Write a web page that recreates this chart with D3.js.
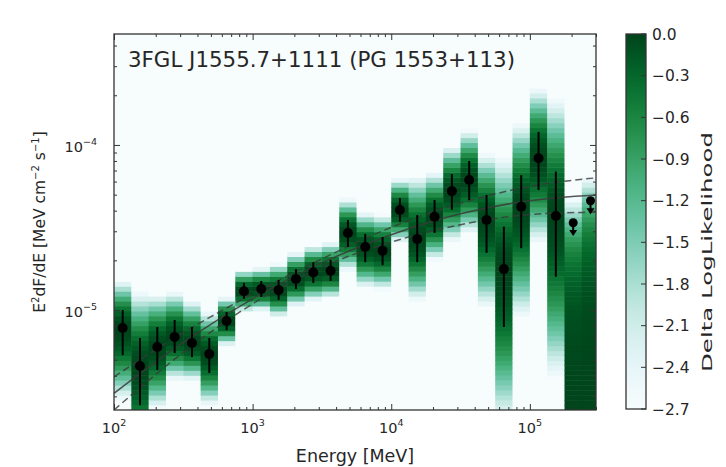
<!DOCTYPE html>
<html lang="en">
<head>
<meta charset="UTF-8">
<title>3FGL J1555.7+1111 SED</title>
<script src="https://d3js.org/d3.v7.min.js"></script>
<style>
  body { margin: 0; background: #fff; }
  text { font-family: "DejaVu Sans", sans-serif; fill: #262626; }
</style>
</head>
<body>
<svg id="chart" width="726" height="467"></svg>
<script>
// energy bin edges [MeV], 8 bins per decade
const binEdges = [100, 133.4, 177.8, 237.1, 316.2, 421.7, 562.3, 749.9,
                  1000, 1333.5, 1778.3, 2371.4, 3162.3, 4217, 5623.4, 7498.9,
                  10000, 13335, 17783, 23714, 31623, 42170, 56234, 74989,
                  100000, 133352, 177828, 237137, 316228];

// E^2 dF/dE [MeV cm^-2 s^-1]: best value and ends of the 1 sigma bar (null = upper limit bin)
const flux   = [7.78e-6, 4.58e-6, 5.97e-6, 6.86e-6, 6.31e-6, 5.41e-6, 8.58e-6, 1.30e-5,
                1.34e-5, 1.32e-5, 1.54e-5, 1.69e-5, 1.73e-5, 2.93e-5, 2.41e-5, 2.29e-5,
                4.04e-5, 2.69e-5, 3.67e-5, 5.25e-5, 6.13e-5, 3.51e-5, 1.77e-5, 4.23e-5,
                8.30e-5, 3.71e-5, null, null];
const fluxLo = [5.33e-6, 2.65e-6, 4.33e-6, 5.49e-6, 5.19e-6, 4.15e-6, 7.56e-6, 1.17e-5,
                1.20e-5, 1.15e-5, 1.34e-5, 1.46e-5, 1.50e-5, 2.41e-5, 1.95e-5, 1.87e-5,
                3.42e-5, 1.95e-5, 2.93e-5, 4.04e-5, 4.64e-5, 2.22e-5, 7.89e-6, 2.37e-5,
                5.34e-5, 1.59e-5, null, null];
const fluxHi = [1.00e-5, 6.77e-6, 7.89e-6, 8.70e-6, 7.89e-6, 6.77e-6, 9.72e-6, 1.46e-5,
                1.50e-5, 1.52e-5, 1.77e-5, 1.95e-5, 2.01e-5, 3.51e-5, 2.89e-5, 2.77e-5,
                4.77e-5, 3.76e-5, 4.64e-5, 6.66e-5, 7.99e-5, 4.98e-5, 3.20e-5, 6.57e-5,
                1.20e-4, 6.90e-5, null, null];
const upperLimit = [null, null, null, null, null, null, null, null,
                    null, null, null, null, null, null, null, null,
                    null, null, null, null, null, null, null, null,
                    null, null, 3.38e-5, 4.59e-5];

// spectral model (best fit and 1 sigma band)
const modelEnergy = [100, 316.2, 1000, 3162, 10000, 31623, 100000, 316228];
const modelFlux   = [3.13e-6, 6.36e-6, 1.17e-5, 1.93e-5, 2.86e-5, 3.83e-5, 4.60e-5, 4.99e-5];
const modelUpper  = [3.94e-6, 7.30e-6, 1.25e-5, 2.04e-5, 3.17e-5, 4.44e-5, 5.60e-5, 6.35e-5];
const modelLower  = [2.48e-6, 5.54e-6, 1.09e-5, 1.82e-5, 2.58e-5, 3.29e-5, 3.79e-5, 3.92e-5];

const xMajor = [1e2, 1e3, 1e4, 1e5];
const xMajorLabels = ["2", "3", "4", "5"];
const yMajor = [1e-5, 1e-4];
const yMajorLabels = ["\u22125", "\u22124"];
const cbTicks = [0, -0.3, -0.6, -0.9, -1.2, -1.5, -1.8, -2.1, -2.4, -2.7];

const title = "3FGL J1555.7+1111 (PG 1553+113)";

const plot = { left: 114, right: 596, top: 34, bottom: 410 };
const cb = { left: 626, width: 20, top: 34, bottom: 409 };

const svg = d3.select("#chart");

const x = d3.scaleLog().domain([100, 3e5]).range([plot.left, plot.right]);
const y = d3.scaleLog().domain([2.48e-6, 4.7e-4]).range([plot.bottom, plot.top]);
const color = d3.scaleSequential(d3.interpolateBuGn).domain([-2.7, 0]).clamp(true);

svg.append("defs").append("clipPath").attr("id", "plotclip")
  .append("rect")
    .attr("x", plot.left).attr("y", plot.top)
    .attr("width", plot.right - plot.left).attr("height", plot.bottom - plot.top);

const g = svg.append("g").attr("clip-path", "url(#plotclip)");

// likelihood profile of each bin, drawn as a column of cells
const widen = 1.15;
function deltaLogL(i, f) {
  if (upperLimit[i] != null) {
    const s = upperLimit[i] / 1.645;
    return -0.5 * (f / s) * (f / s);
  }
  const d = Math.log10(f / flux[i]);
  const s = widen * (d > 0 ? Math.log10(fluxHi[i] / flux[i]) : Math.log10(flux[i] / fluxLo[i]));
  return -0.5 * (d / s) * (d / s);
}

const step = 0.03;
const [ly0, ly1] = y.domain().map(Math.log10);
const grid = d3.range(ly0, ly1, step);
const cells = [];
for (let i = 0; i < binEdges.length - 1; i++) {
  grid.forEach(l => cells.push({ i, lo: Math.pow(10, l), hi: Math.pow(10, l + step),
                                 v: deltaLogL(i, Math.pow(10, l + step / 2)) }));
}

g.selectAll("rect.cell")
  .data(cells)
  .enter().append("rect")
    .attr("class", "cell")
    .attr("x", d => x(binEdges[d.i]))
    .attr("width", d => x(binEdges[d.i + 1]) - x(binEdges[d.i]) + 0.5)
    .attr("y", d => y(d.hi))
    .attr("height", d => y(d.lo) - y(d.hi) + 0.5)
    .attr("fill", d => color(d.v));

// model lines
const line = d3.line()
  .x((d, i) => x(modelEnergy[i]))
  .y(d => y(d))
  .curve(d3.curveMonotoneX);

g.append("path").datum(modelFlux)
  .attr("d", line).attr("fill", "none")
  .attr("stroke", "#3a3a3a").attr("stroke-opacity", 0.85).attr("stroke-width", 1.5);

[modelUpper, modelLower].forEach(arr => {
  g.append("path").datum(arr)
    .attr("d", line).attr("fill", "none")
    .attr("stroke", "#3a3a3a").attr("stroke-opacity", 0.8).attr("stroke-width", 1.5)
    .attr("stroke-dasharray", "7,4");
});

// points with error bars
const idx = d3.range(binEdges.length - 1);
const cx = i => (x(binEdges[i]) + x(binEdges[i + 1])) / 2;
const det = idx.filter(i => flux[i] != null);
const uls = idx.filter(i => upperLimit[i] != null);

g.selectAll("line.err")
  .data(det)
  .enter().append("line")
    .attr("class", "err")
    .attr("x1", cx).attr("x2", cx)
    .attr("y1", i => y(fluxLo[i])).attr("y2", i => y(fluxHi[i]))
    .attr("stroke", "#000").attr("stroke-width", 2);

g.selectAll("circle.pt")
  .data(det)
  .enter().append("circle")
    .attr("class", "pt")
    .attr("cx", cx).attr("cy", i => y(flux[i]))
    .attr("r", 5).attr("fill", "#000");

// upper limits: marker with a short downward arrow
g.selectAll("line.ul")
  .data(uls)
  .enter().append("line")
    .attr("class", "ul")
    .attr("x1", cx).attr("x2", cx)
    .attr("y1", i => y(upperLimit[i])).attr("y2", i => y(upperLimit[i] * 0.83) - 3)
    .attr("stroke", "#000").attr("stroke-width", 2);

g.selectAll("path.ularrow")
  .data(uls)
  .enter().append("path")
    .attr("class", "ularrow")
    .attr("d", i => {
      const px = cx(i), py = y(upperLimit[i] * 0.83);
      return `M${px - 4},${py - 6}L${px + 4},${py - 6}L${px},${py}Z`;
    })
    .attr("fill", "#000");

g.selectAll("circle.ulpt")
  .data(uls)
  .enter().append("circle")
    .attr("class", "ulpt")
    .attr("cx", cx).attr("cy", i => y(upperLimit[i]))
    .attr("r", 4.5).attr("fill", "#000");

// axes: inward ticks on all four sides
function ticks(axisFn, scale, pos, vals, len) {
  const a = svg.append("g")
    .attr("transform", pos)
    .call(axisFn(scale).tickValues(vals).tickSize(-len).tickFormat(""));
  a.select(".domain").remove();
  a.selectAll("line").attr("stroke", "#333");
  return a;
}
const xMinor = x.ticks().filter(v => !xMajor.includes(v));
const yMinor = y.ticks().filter(v => !yMajor.some(m => Math.abs(m - v) / m < 1e-6));

ticks(d3.axisBottom, x, `translate(0,${plot.bottom})`, xMinor, 3);
ticks(d3.axisBottom, x, `translate(0,${plot.bottom})`, xMajor, 6);
ticks(d3.axisTop, x, `translate(0,${plot.top})`, xMinor, 3);
ticks(d3.axisTop, x, `translate(0,${plot.top})`, xMajor, 6);
ticks(d3.axisLeft, y, `translate(${plot.left},0)`, yMinor, 3);
ticks(d3.axisLeft, y, `translate(${plot.left},0)`, yMajor, 6);
ticks(d3.axisRight, y, `translate(${plot.right},0)`, yMinor, 3);
ticks(d3.axisRight, y, `translate(${plot.right},0)`, yMajor, 6);

svg.append("rect")
  .attr("x", plot.left).attr("y", plot.top)
  .attr("width", plot.right - plot.left).attr("height", plot.bottom - plot.top)
  .attr("fill", "none").attr("stroke", "#333").attr("stroke-width", 1.3);

// tick labels 10^n
xMajor.forEach((v, i) => {
  const t = svg.append("text")
    .attr("x", x(v)).attr("y", plot.bottom + 23)
    .attr("text-anchor", "middle").style("font-size", "14.5px");
  t.append("tspan").text("10");
  t.append("tspan").attr("dy", -7).style("font-size", "9.5px").text(xMajorLabels[i]);
});
yMajor.forEach((v, i) => {
  const t = svg.append("text")
    .attr("x", plot.left - 17).attr("y", y(v) + 7)
    .attr("text-anchor", "end").style("font-size", "14.5px");
  t.append("tspan").text("10");
  t.append("tspan").attr("dy", -7).style("font-size", "9.5px").text(yMajorLabels[i]);
});

// axis labels
svg.append("text")
  .attr("x", 355).attr("y", 462)
  .attr("text-anchor", "middle").style("font-size", "17.5px")
  .text("Energy [MeV]");

const yl = svg.append("text")
  .attr("transform", `translate(45,${(plot.top + plot.bottom) / 2}) rotate(-90)`)
  .attr("text-anchor", "middle").style("font-size", "15.5px");
[["E", 0], ["2", 1], ["dF/dE [MeV cm", 0], ["\u22122", 1], [" s", 0], ["\u22121", 1], ["]", 0]]
  .forEach(([s, sup], k, arr) => {
    const ts = yl.append("tspan").text(s);
    if (sup) ts.attr("dy", -6).style("font-size", "10px");
    else if (k > 0 && arr[k - 1][1]) ts.attr("dy", 6);
  });

// source name
svg.append("text")
  .attr("x", 128).attr("y", 67)
  .attr("textLength", 387).attr("lengthAdjust", "spacingAndGlyphs")
  .style("font-size", "21px")
  .text(title);

// colour bar
const cbScale = d3.scaleLinear().domain([-2.7, 0]).range([cb.bottom, cb.top]);
const grad = svg.select("defs").append("linearGradient")
  .attr("id", "cbgrad").attr("x1", 0).attr("y1", 1).attr("x2", 0).attr("y2", 0);
grad.selectAll("stop")
  .data(d3.range(0, 1.0001, 0.05))
  .enter().append("stop")
    .attr("offset", d => d)
    .attr("stop-color", d => color(-2.7 + 2.7 * d));

svg.append("rect")
  .attr("x", cb.left).attr("y", cb.top)
  .attr("width", cb.width).attr("height", cb.bottom - cb.top)
  .attr("fill", "url(#cbgrad)").attr("stroke", "#333").attr("stroke-width", 1.3);

const fmt = d3.format(".1f");
svg.selectAll("line.cbtick")
  .data(cbTicks)
  .enter().append("line")
    .attr("x1", cb.left + cb.width - 5).attr("x2", cb.left + cb.width)
    .attr("y1", d => cbScale(d)).attr("y2", d => cbScale(d))
    .attr("stroke", "#333");

svg.selectAll("text.cblab")
  .data(cbTicks)
  .enter().append("text")
    .attr("class", "cblab")
    .attr("x", cb.left + cb.width + 6).attr("y", d => cbScale(d) + 5.5)
    .style("font-size", "15.5px")
    .text(d => d === 0 ? "0.0" : fmt(d));

svg.append("text")
  .attr("transform", `translate(712,252) rotate(-90)`)
  .attr("text-anchor", "middle").style("font-size", "14px")
  .attr("textLength", 240).attr("lengthAdjust", "spacingAndGlyphs")
  .text("Delta LogLikelihood");
</script>
</body>
</html>
